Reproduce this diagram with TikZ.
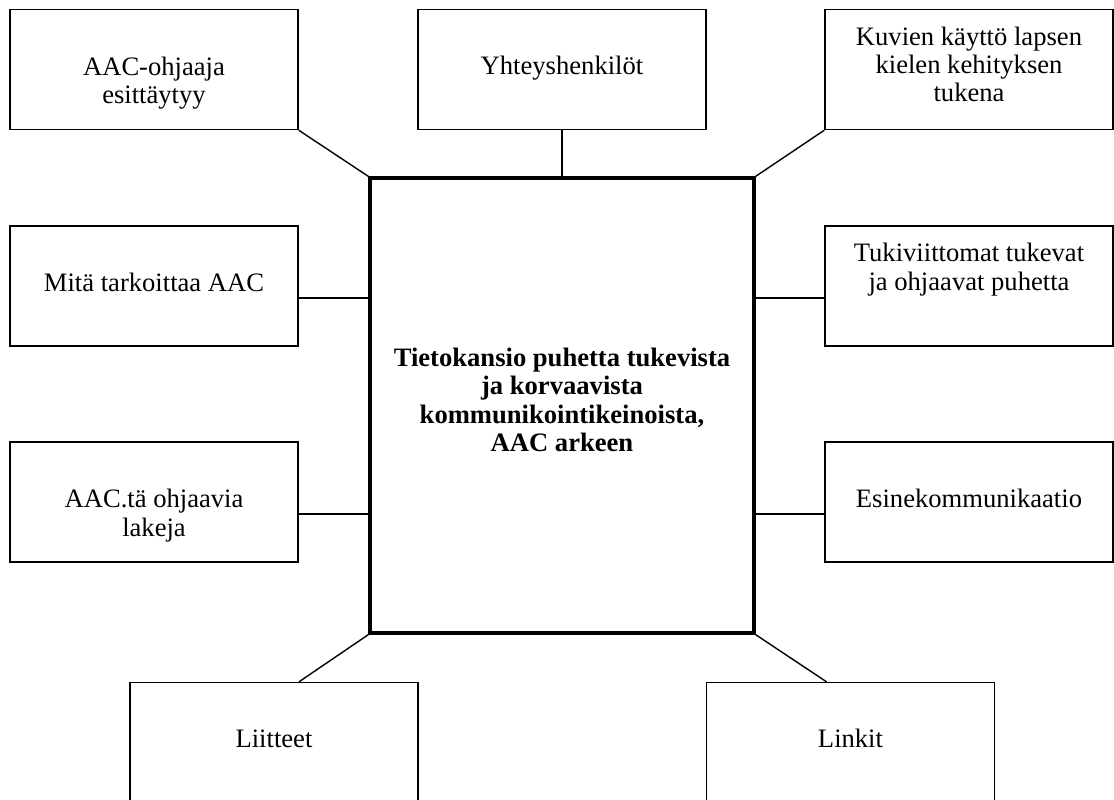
\documentclass[tikz,border=0pt]{standalone}
\usepackage{fontspec}
\setmainfont{Liberation Serif}
\usepackage{tikz}
\usetikzlibrary{calc}

\tikzset{
  box/.style={draw, line width=0.7pt, minimum width=144pt, minimum height=60pt, inner sep=0pt},
  mainbox/.style={draw, line width=1.6pt, minimum width=192pt, minimum height=227.5pt, inner sep=0pt},
  txt/.style={font=\fontsize{13.3}{14.2}\selectfont, align=center, inner sep=0pt, anchor=base},
  link/.style={line width=0.7pt}
}

\begin{document}
\begin{tikzpicture}[x=0.5pt, y=-0.5pt]
    \useasboundingbox (0,0) rectangle (1114,799);
    % Main box in the middle
    \node[mainbox] (C) at (562,405.5) {};
    % Boxes round it
    \node[box] (TL) at (154,69.5) {}; % Top left
    \node[box] (TM) at (562,69.5) {}; % Top middle
    \node[box] (TR) at (969,69.5) {}; % Top right
    \node[box] (ML) at (154,286) {}; % Middle left
    \node[box] (MR) at (969,286) {}; % Middle right
    \node[box] (LL) at (154,502) {}; % Lower left
    \node[box] (LR) at (969,502) {}; % Lower right
    \node[box] (BL) at (274,742.5) {}; % Bottom left
    \node[box] (BR) at (850.5,742.5) {}; % Bottom right
    % Texts (base = last line)
    \node[txt, font=\fontsize{13.3}{14.2}\selectfont\bfseries] (Ct) at ($(C.north)+(0,275)$)
      {Tietokansio puhetta tukevista\\ja korvaavista\\kommunikointikeinoista,\\AAC arkeen};
    \node[txt] (TLt) at ($(TL.north)+(0,95)$) {AAC-ohjaaja\\esittäytyy};
    \node[txt] (TMt) at ($(TM.north)+(0,66)$) {Yhteyshenkilöt};
    \node[txt] (TRt) at ($(TR.north)+(0,93)$) {Kuvien käyttö lapsen\\kielen kehityksen\\tukena};
    \node[txt] (MLt) at ($(ML.north)+(0,66)$) {Mitä tarkoittaa AAC};
    \node[txt] (MRt) at ($(MR.north)+(0,65)$) {Tukiviittomat tukevat\\ja ohjaavat puhetta};
    \node[txt] (LLt) at ($(LL.north)+(0,95)$) {AAC.tä ohjaavia\\lakeja};
    \node[txt] (LRt) at ($(LR.north)+(0,66)$) {Esinekommunikaatio};
    \node[txt] (BLt) at ($(BL.north)+(0,66)$) {Liitteet};
    \node[txt] (BRt) at ($(BR.north)+(0,66)$) {Linkit};
    % Connectors
    \draw[link] (TL.south east) -- (C.north west);
    \draw[link] (TM.south) -- (C.north);
    \draw[link] (TR.south west) -- (C.north east);
    \draw[link] ([yshift=-6pt]ML.east) -- ([yshift=-6pt]ML.east -| C.west);
    \draw[link] ([yshift=-6pt]MR.west) -- ([yshift=-6pt]MR.west -| C.east);
    \draw[link] ([yshift=-6pt]LL.east) -- ([yshift=-6pt]LL.east -| C.west);
    \draw[link] ([yshift=-6pt]LR.west) -- ([yshift=-6pt]LR.west -| C.east);
    \draw[link] ([xshift=12.5pt]BL.north) -- (C.south west);
    \draw[link] ([xshift=-12pt]BR.north) -- (C.south east);
\end{tikzpicture}
\end{document}
